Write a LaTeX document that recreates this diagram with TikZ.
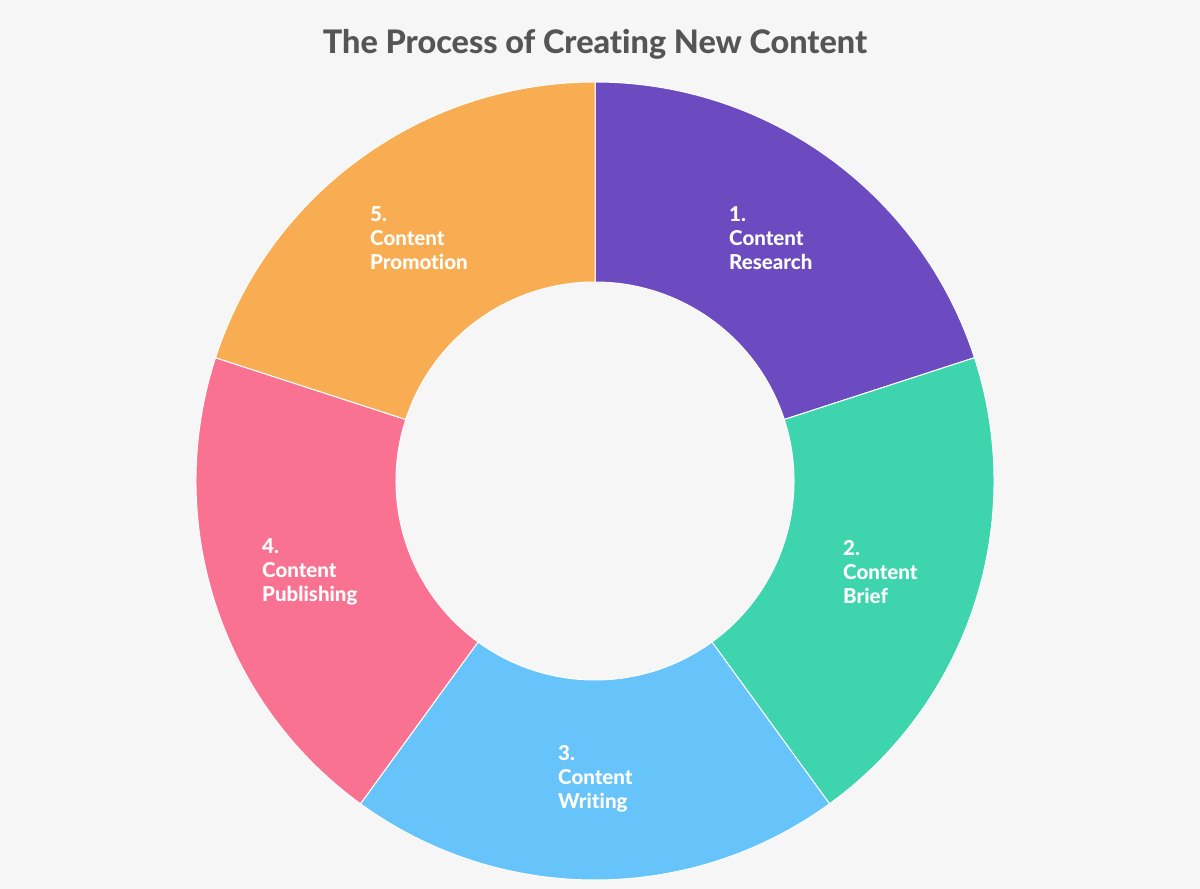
\documentclass[tikz,border=0pt]{standalone}
\usepackage{fontspec}
\setmainfont{Lato}[BoldFont={Lato Heavy},Ligatures=NoCommon]
\definecolor{bg}{HTML}{F6F6F6}
\definecolor{ttl}{HTML}{555555}
\definecolor{cA}{HTML}{6B4BBF}
\definecolor{cB}{HTML}{3ED4AE}
\definecolor{cC}{HTML}{66C4FB}
\definecolor{cD}{HTML}{F97291}
\definecolor{cE}{HTML}{F9AD52}
\begin{document}
\begin{tikzpicture}[x=1pt,y=1pt,
  seglabel/.style={text=white,font=\bfseries\fontsize{20.5}{24.3}\selectfont,align=left,anchor=west,inner sep=0pt},
  seg/.style={draw=white,line width=1pt}]
\fill[bg] (0,0) rectangle (1200,889);
\useasboundingbox (0,0) rectangle (1200,889);
\node[text=ttl,font=\bfseries\fontsize{32.4}{36}\selectfont] (title) at (595,845) {The Process of Creating New Content};
\begin{scope}[shift={(595,408)}]
\def\Ro{399}\def\Ri{199}
\foreach \a/\b/\c in {90/18/cA, 18/-54/cB, -54/-126/cC, -126/-198/cD, -198/-270/cE}{
  \fill[\c,seg] (\a:\Ri) -- (\a:\Ro) arc[start angle=\a,end angle=\b,radius=\Ro] -- (\b:\Ri) arc[start angle=\b,end angle=\a,radius=\Ri] -- cycle;
}
\end{scope}
\node[seglabel] (l1) at (729,889-238) {1.\\Content\\Research};
\node[seglabel] (l2) at (843,889-572) {2.\\Content\\Brief};
\node[seglabel] (l3) at (558,889-779) {3.\\Content\\Writing};
\node[seglabel] (l4) at (262,889-572) {4.\\Content\\Publishing};
\node[seglabel] (l5) at (370,889-238) {5.\\Content\\Promotion};
\end{tikzpicture}
\end{document}
